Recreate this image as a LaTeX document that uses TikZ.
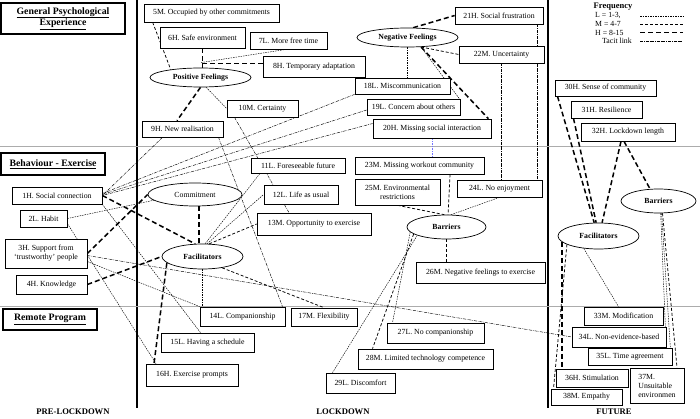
\documentclass[tikz,border=0pt]{standalone}
\usepackage{fontspec}
\setmainfont{Liberation Serif}
\usetikzlibrary{shapes.geometric,backgrounds}
\begin{document}
\begin{tikzpicture}[x=1pt,y=-1pt,
 box/.style={draw, line width=0.7pt, fill=white, inner sep=0pt, font=\fontsize{7.8}{9}\selectfont, align=center},
 ell/.style={draw, ellipse, line width=0.7pt, fill=white, inner sep=0pt, font=\bfseries\fontsize{7.8}{9}\selectfont},
 hdr/.style={draw, line width=1.6pt, fill=white, inner sep=0pt, font=\bfseries\fontsize{9.8}{11.5}\selectfont, align=center},
 coltitle/.style={font=\bfseries\fontsize{8.6}{10}\selectfont},
 lgd/.style={anchor=west, inner sep=0pt, font=\fontsize{7.8}{9}\selectfont},
 Lk/.style={line width=0.45pt, dash pattern=on 1.5pt off 1pt},
 Mk/.style={line width=0.75pt, dash pattern=on 3pt off 2pt},
 Hk/.style={line width=1.5pt, dash pattern=on 5pt off 3pt},
 Tk/.style={line width=0.45pt, dash pattern=on 3pt off 1pt on 0.6pt off 1pt},
]
\useasboundingbox (0,0) rectangle (700,419);

% section headers
\node[hdr, minimum width=124, minimum height=31] (hgpe) at (63,18.5) {\underline{General Psychological}\\\underline{Experience}};
\node[hdr, minimum width=104, minimum height=22] (hbe) at (53,164) {\underline{Behaviour - Exercise}};
\node[hdr, minimum width=94, minimum height=21] (hrp) at (50,319.5) {\underline{Remote Program}};

% column titles
\node[coltitle] (tpre) at (73,412) {PRE-LOCKDOWN};
\node[coltitle] (tlock) at (343,412) {LOCKDOWN};
\node[coltitle] (tfut) at (614,412) {FUTURE};

% legend
\node[font=\bfseries\fontsize{8.5}{10}\selectfont, inner sep=0pt] (lgt) at (613,7) {Frequency};
\node[lgd] (lg1) at (595,15.5) {L = 1-3,};
\node[lgd] (lg2) at (595,24) {M = 4-7};
\node[lgd] (lg3) at (595,32.5) {H = 8-15};
\node[lgd] (lg4) at (602,41) {Tacit link};
\draw[Lk] (640,16) -- (683,16);
\draw[Mk] (640,24.5) -- (683,24.5);
\draw[Hk] (640,32.5) -- (683,32.5);
\draw[Tk] (640,41) -- (683,41);

% GPE nodes
\node[box, minimum width=135, minimum height=18] (n5) at (211.5,13) {5M. Occupied by other commitments};
\node[box, minimum width=85, minimum height=21] (n6) at (202.5,37.5) {6H. Safe environment};
\node[box, minimum width=77, minimum height=17] (n7) at (288.5,40.5) {7L. More free time};
\node[box, minimum width=102, minimum height=21] (n8) at (314,66.5) {8H. Temporary adaptation};
\node[ell, minimum width=101, minimum height=19] (pf) at (200.5,77.5) {Positive Feelings};
\node[box, minimum width=71, minimum height=17] (n10) at (262.5,108.5) {10M. Certainty};
\node[box, minimum width=81, minimum height=16] (n9) at (182.5,129) {9H. New realisation};
\node[box, minimum width=95, minimum height=16] (n18) at (402.5,86) {18L. Miscommunication};
\node[box, minimum width=93, minimum height=16] (n19) at (413.5,107) {19L. Concern about others};
\node[box, minimum width=118, minimum height=19] (n20) at (432,128.5) {20H. Missing social interaction};
\node[ell, minimum width=101, minimum height=19] (nf) at (407.5,37.5) {Negative Feelings};
\node[box, minimum width=88, minimum height=17] (n21) at (499,15.5) {21H. Social frustration};
\node[box, minimum width=85, minimum height=17] (n22) at (501.5,54.5) {22M. Uncertainty};
\node[box, minimum width=101, minimum height=16] (n30) at (605.5,88) {30H. Sense of community};
\node[box, minimum width=71, minimum height=17] (n31) at (606.5,109.5) {31H. Resilience};
\node[box, minimum width=94, minimum height=18] (n32) at (628,132) {32H. Lockdown length};

% Behaviour nodes
\node[box, minimum width=90, minimum height=17] (n1) at (57,195.5) {1H. Social connection};
\node[box, minimum width=47, minimum height=17] (n2) at (43.5,218.5) {2L. Habit};
\node[box, minimum width=82, minimum height=29] (n3) at (46,253.5) {3H. Support from\\‘trustworthy’ people};
\node[box, minimum width=71, minimum height=19] (n4) at (51.5,284.5) {4H. Knowledge};
\node[ell, font=\fontsize{7.8}{9}\selectfont, minimum width=94, minimum height=23] (com) at (195,194.5) {Commitment};
\node[ell, minimum width=81, minimum height=25] (fac) at (202.5,256.5) {Facilitators};
\node[box, minimum width=94, minimum height=15] (n11) at (298,165.5) {11L. Foreseeable future};
\node[box, minimum width=74, minimum height=19] (n12) at (301,194.5) {12L. Life as usual};
\node[box, minimum width=114, minimum height=22] (n13) at (314,224) {13M. Opportunity to exercise};
\node[box, minimum width=129, minimum height=17] (n23) at (419.5,165.5) {23M. Missing workout community};
\node[box, minimum width=85, minimum height=26] (n25) at (397.5,192) {25M. Environmental\\restrictions};
\node[box, minimum width=85, minimum height=17] (n24) at (499.5,188.5) {24L. No enjoyment};
\node[ell, minimum width=79, minimum height=24] (bar) at (446.5,227) {Barriers};
\node[box, minimum width=129, minimum height=21] (n26) at (480.5,272.5) {26M. Negative feelings to exercise};
\node[ell, minimum width=81, minimum height=26] (facf) at (598.5,236) {Facilitators};
\node[ell, minimum width=75, minimum height=24] (barf) at (658.5,201) {Barriers};

% Remote program nodes
\node[box, minimum width=85, minimum height=19] (n14) at (242.5,316.5) {14L. Companionship};
\node[box, minimum width=93, minimum height=19] (n15) at (207.5,342.5) {15L. Having a schedule};
\node[box, minimum width=92, minimum height=22] (n16) at (192,375) {16H. Exercise prompts};
\node[box, minimum width=66, minimum height=18] (n17) at (324,317) {17M. Flexibility};
\node[box, minimum width=97, minimum height=20] (n27) at (435.5,333) {27L. No companionship};
\node[box, minimum width=135, minimum height=20] (n28) at (425.5,359) {28M. Limited technology competence};
\node[box, minimum width=69, minimum height=20] (n29) at (360.5,383) {29L. Discomfort};
\node[box, minimum width=79, minimum height=18] (n33) at (623.5,316) {33M. Modification};
\node[box, minimum width=94, minimum height=20] (n34) at (619,337) {34L. Non-evidence-based};
\node[box, minimum width=84, minimum height=17] (n35) at (630,356.5) {35L. Time agreement};
\node[box, minimum width=72, minimum height=18] (n36) at (592,378) {36H. Stimulation};
\node[box, align=left, minimum width=54, minimum height=35] (n37) at (657,385.5) {37M.\\Unsuitable\\environmen};
\node[box, minimum width=71, minimum height=16] (n38) at (586.5,397) {38M. Empathy};

\begin{scope}[on background layer]
% frame
\draw[line width=1.1pt] (137,0) -- (137,408);
\draw[line width=1.1pt] (548,0) -- (548,408);
\draw[gray!65, line width=0.8pt] (0,146) -- (700,146);
\draw[gray!65, line width=0.8pt] (0,306) -- (700,306);

% GPE connectors
\draw[Mk] ([xshift=9]n5.south west) -- (pf.165);
\draw[Hk] (n6.south) -- (n6.south |- pf.north);
\draw[Hk] ([yshift=3]n8.west) -| ([xshift=2]pf.north);
\draw[Lk] ([xshift=-2]n7.south) -- ([yshift=5]pf.north);
\draw[Hk] (pf.south) -- ([xshift=-5.5]n9.north);
\draw[Lk] (pf.-60) -- (n10.west);
\draw[Hk] (nf.60) -- (n21.west);
\draw[Lk] (nf.south) -- (nf.south |- n18.north);
\draw[Mk] (nf.-35) -- (n22.west);
\draw[Lk] (nf.-35) -- ([xshift=-1]n19.north east);
\draw[Hk] (nf.-35) -- ([xshift=-3]n20.north east);
\draw[Tk] (n22.south) -- (n22.south |- n24.north);
\draw[Tk] ([xshift=38]n21.south) -- ([xshift=38]n21.south |- n24.north);
\draw[Lk, blue!55] (n20.south) -- (n20.south |- n23.north);

% future connectors
\draw[Hk] ([xshift=-48]n30.south) -- (facf.108);
\draw[Hk] ([xshift=-33]n31.south) -- (facf.100);
\draw[Hk] ([xshift=-7]n32.south) -- (facf.75);
\draw[Hk] ([xshift=-4]n32.south) -- (barf.125);
\draw[Hk] (facf.189) -- (facf.189 |- n36.north);
\draw[Mk] (facf.195) -- ([xshift=-33]n38.north);
\draw[Lk] (facf.-140) -- ([xshift=-5]n33.north);
\draw[Lk] (barf.-80) -- ([xshift=-1]n34.north east);
\draw[Lk] (barf.-76) -- ([xshift=-2]n35.north east);
\draw[Mk] (barf.-72) -- ([xshift=20]n37.north);

% lockdown barriers
\draw[Mk] ([xshift=30.5]n23.south) -- (bar.83);
\draw[Mk] (n25.south) -- (bar.100);
\draw[Lk] (n24.south) -- (bar.70);
\draw[Mk] (bar.south) -- (bar.south |- n26.north);
\draw[Lk] (bar.188) -- ([xshift=-43]n27.north);
\draw[Mk] (bar.192) -- ([xshift=-53]n28.north);
\draw[Lk] (bar.196) -- ([xshift=-28]n29.north);

% commitment / facilitators
\draw[Hk] ([xshift=4]com.south) -- ([xshift=4]com.south |- fac.north);
\draw[Hk] (n1.east) -- (fac.120);
\draw[Hk] (n3.east) -- (com.west);
\draw[Hk] (n4.east) -- (fac.180);
\draw[Hk] (fac.190) -- ([xshift=-38]n16.north);
\draw[Lk] (fac.78) -- ([xshift=-38]n11.south);
\draw[Lk] (fac.70) -- (n12.west);
\draw[Mk] (fac.62) -- (n13.west);
\draw[Lk] (fac.south) -- (fac.south |- n14.north);
\draw[Mk] (fac.-30) -- (n17.north);
\draw[Lk] (n2.east) -- (com.188);
\draw[Lk] ([yshift=-5]n2.east) -- ([xshift=-36]n16.north);
\draw[Lk] (n1.south east) -- ([xshift=-7]n15.north);
\draw[Lk] ([yshift=-8]n3.east) -- (n14.north west);
\draw[Tk] ([yshift=-2]n3.east) -- (n34.west);
\draw[Tk] ([xshift=-20]n9.south) -- (n1.east);
\draw[Tk] (n18.south west) -- ([yshift=2]n1.east);
\draw[Tk] ([yshift=-3]n19.west) -- ([yshift=1]n1.east);
\draw[Tk] ([yshift=5]n20.west) -- (n1.east);
\draw[Tk] ([xshift=36]n9.south) -- ([xshift=40]n14.north);
\draw[Tk] ([xshift=-28]n10.south) -- ([xshift=-25]n13.north);
\end{scope}
\end{tikzpicture}
\end{document}
